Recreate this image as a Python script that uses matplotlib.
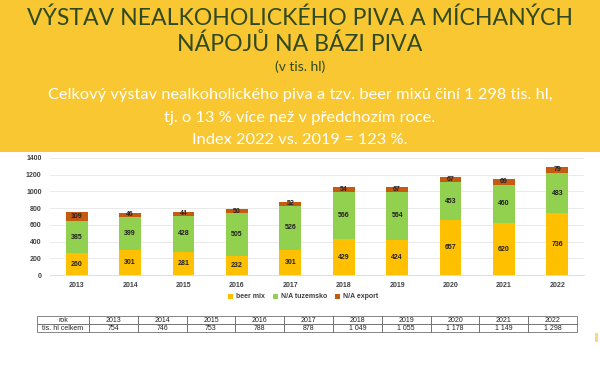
import matplotlib
matplotlib.use("Agg")
import matplotlib.pyplot as plt
import numpy as np

years = ["2013", "2014", "2015", "2016", "2017", "2018", "2019", "2020", "2021", "2022"]
beer_mix = [260, 301, 281, 232, 301, 429, 424, 657, 620, 736]
na_tuzemsko = [385, 399, 428, 505, 526, 566, 564, 453, 460, 483]
na_export = [109, 46, 44, 50, 52, 54, 67, 67, 69, 79]
totals_lbl = ["754", "746", "753", "788", "878", "1 049", "1 055", "1 178", "1 149", "1 298"]
series_names = ["beer mix", "N/A tuzemsko", "N/A export"]
colors = ["#FFC000", "#92D050", "#C55A11"]

plt.rcParams['font.family'] = ['Lato', 'DejaVu Sans']
fig = plt.figure(figsize=(6, 3.78), dpi=100)
fig.patch.set_facecolor("white")

# banner
fig.patches.append(plt.Rectangle((0, 1 - 152/378), 1, 152/378, transform=fig.transFigure,
                                 facecolor="#F8C732", edgecolor="none", zorder=0))
# small artifact at right edge
fig.patches.append(plt.Rectangle((595/600, 1 - 342/378), 3/600, 9/378, transform=fig.transFigure,
                                 facecolor="#F6D88A", edgecolor="none", zorder=0))
green = "#2F4A22"
fig.text(0.5, 1 - 18/378, "VÝSTAV NEALKOHOLICKÉHO PIVA A MÍCHANÝCH", ha="center", va="center",
         fontsize=16.6, color=green)
fig.text(0.5, 1 - 44/378, "NÁPOJŮ NA BÁZI PIVA", ha="center", va="center", fontsize=16.6,
         color=green)
fig.text(0.5, 1 - 67/378, "(v tis. hl)", ha="center", va="center", fontsize=10, color=green)
fig.text(0.5, 1 - 95/378, "Celkový výstav nealkoholického piva a tzv. beer mixů činí 1 298 tis. hl,",
         ha="center", va="center", fontsize=11.8, color="white")
fig.text(0.5, 1 - 118/378, "tj. o 13 % více než v předchozím roce.", ha="center", va="center",
         fontsize=11.8, color="white")
fig.text(0.5, 1 - 140/378, "Index 2022 vs. 2019 = 123 %.", ha="center", va="center",
         fontsize=11.8, color="white")

ax = fig.add_axes([50/600, 1 - 275/378, (584-50)/600, (275-158)/378])
x = np.arange(len(years))
w = 0.41
bottom = np.zeros(len(years))
for vals, c, name in zip([beer_mix, na_tuzemsko, na_export], colors, series_names):
    ax.bar(x, vals, w, bottom=bottom, color=c, label=name, zorder=3)
    for xi, b, v in zip(x, bottom, vals):
        ax.text(xi, b + v/2, str(v), ha="center", va="center", fontsize=5,
                fontweight="bold", color="#222222", zorder=4,
                family=["Liberation Sans", "DejaVu Sans"])
    bottom += np.array(vals)

ax.set_xlim(-0.5, len(years) - 0.5)
ax.set_ylim(0, 1400)
ax.set_yticks(range(0, 1401, 200))
ax.set_xticks(x)
ax.set_xticklabels(years)
ax.tick_params(axis="both", length=0, labelsize=5, colors="#404040")
ax.tick_params(axis="y", pad=6)
ax.tick_params(axis="x", pad=5)
for lbl in ax.get_xticklabels() + ax.get_yticklabels():
    lbl.set_fontweight("bold")
    lbl.set_fontfamily(["Liberation Sans", "DejaVu Sans"])
ax.grid(axis="y", color="#E6E6E6", linewidth=0.6, zorder=0)
for s in ["top", "right", "left"]:
    ax.spines[s].set_visible(False)
ax.spines["bottom"].set_color("#D9D9D9")
ax.spines["bottom"].set_linewidth(0.6)

leg = fig.legend(loc="center", bbox_to_anchor=(0.505, 1 - 297/378), ncol=3, frameon=False,
                 handlelength=0.7, handleheight=0.7, columnspacing=1.2,
                 handletextpad=0.4, prop={"family": ["Liberation Sans", "DejaVu Sans"],
                                          "weight": "bold", "size": 5})
for t in leg.get_texts():
    t.set_color("#404040")

# table
tax = fig.add_axes([37/600, 1 - 332/378, (577-37)/600, (332-316)/378])
tax.axis("off")
cell_text = [["rok"] + years, ["tis. hl celkem"] + totals_lbl]
first_w = 52/540
other_w = (1 - first_w) / len(years)
tbl = tax.table(cellText=cell_text, cellLoc="center", loc="center",
                colWidths=[first_w] + [other_w]*len(years), bbox=[0, 0, 1, 1])
tbl.auto_set_font_size(False)
for (r, c), cell in tbl.get_celld().items():
    cell.set_fontsize(5)
    cell.set_linewidth(0.5)
    cell.set_edgecolor("#555555")
    cell.get_text().set_fontfamily(["Liberation Sans", "DejaVu Sans"])
    cell.get_text().set_color("#222222")

fig.savefig("out.png", dpi=100, facecolor="white")
